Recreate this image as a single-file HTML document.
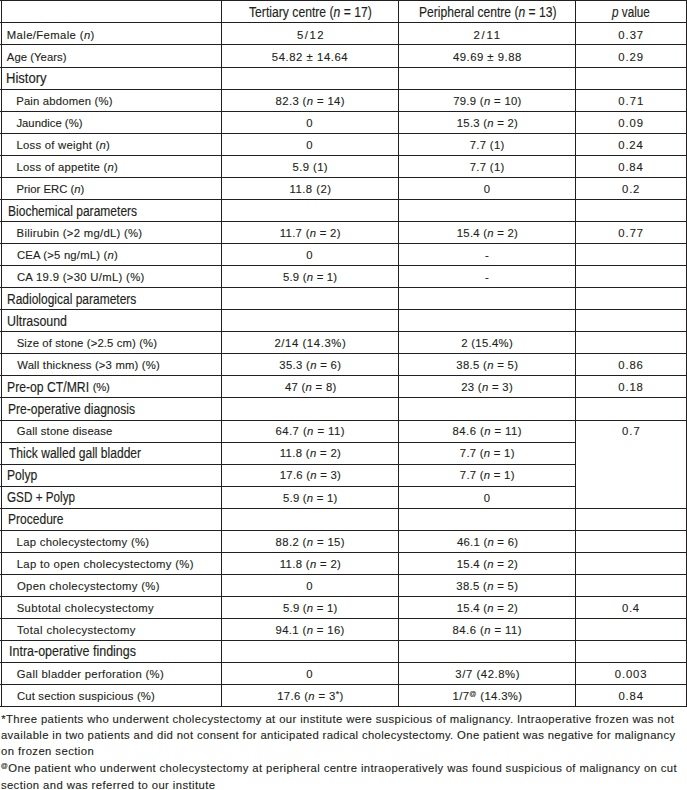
<!DOCTYPE html>
<html><head><meta charset="utf-8"><style>
html,body{margin:0;padding:0;background:#fff;}
body{width:687px;height:790px;position:relative;overflow:hidden;font-family:"Liberation Sans",sans-serif;color:#231f20;-webkit-text-stroke:0.12px #231f20;}
.t{position:absolute;white-space:nowrap;line-height:1;}
.b{font-size:11.3px;}
.h{font-size:13.8px;transform-origin:0 0;-webkit-text-stroke:0.15px #231f20;}
.hc{font-size:14.0px;transform-origin:0 0;-webkit-text-stroke:0.15px #231f20;}
.s{font-size:11.3px;letter-spacing:0.3px;-webkit-text-stroke:0.12px #231f20;}
.fn{font-size:11.3px;}
sup{font-size:7px;vertical-align:top;position:relative;top:-1px;}
sup.ast{font-size:9px;top:-1px;}
svg{position:absolute;left:0;top:0;}
</style></head><body>

<svg width="687" height="790" viewBox="0 0 687 790">
<line x1="0" y1="0.5" x2="687" y2="0.5" stroke="#231f20" stroke-width="1.0"/>
<line x1="0" y1="22.5" x2="687" y2="22.5" stroke="#231f20" stroke-width="1.0"/>
<line x1="0" y1="44.5" x2="687" y2="44.5" stroke="#231f20" stroke-width="1.0"/>
<line x1="0" y1="67.5" x2="687" y2="67.5" stroke="#231f20" stroke-width="1.0"/>
<line x1="0" y1="89.5" x2="687" y2="89.5" stroke="#231f20" stroke-width="1.0"/>
<line x1="0" y1="111.5" x2="687" y2="111.5" stroke="#231f20" stroke-width="1.0"/>
<line x1="0" y1="133.5" x2="687" y2="133.5" stroke="#231f20" stroke-width="1.0"/>
<line x1="0" y1="155.5" x2="687" y2="155.5" stroke="#231f20" stroke-width="1.0"/>
<line x1="0" y1="177.5" x2="687" y2="177.5" stroke="#231f20" stroke-width="1.0"/>
<line x1="0" y1="199.5" x2="687" y2="199.5" stroke="#231f20" stroke-width="1.0"/>
<line x1="0" y1="221.5" x2="687" y2="221.5" stroke="#231f20" stroke-width="1.0"/>
<line x1="0" y1="243.5" x2="687" y2="243.5" stroke="#231f20" stroke-width="1.0"/>
<line x1="0" y1="265.5" x2="687" y2="265.5" stroke="#231f20" stroke-width="1.0"/>
<line x1="0" y1="287.5" x2="687" y2="287.5" stroke="#231f20" stroke-width="1.0"/>
<line x1="0" y1="309.5" x2="687" y2="309.5" stroke="#231f20" stroke-width="1.0"/>
<line x1="0" y1="331.5" x2="687" y2="331.5" stroke="#231f20" stroke-width="1.0"/>
<line x1="0" y1="353.5" x2="687" y2="353.5" stroke="#231f20" stroke-width="1.0"/>
<line x1="0" y1="375.5" x2="687" y2="375.5" stroke="#231f20" stroke-width="1.0"/>
<line x1="0" y1="397.5" x2="687" y2="397.5" stroke="#231f20" stroke-width="1.0"/>
<line x1="0" y1="420.5" x2="687" y2="420.5" stroke="#231f20" stroke-width="1.0"/>
<line x1="0" y1="442.5" x2="575.5" y2="442.5" stroke="#231f20" stroke-width="1.0"/>
<line x1="0" y1="464.5" x2="575.5" y2="464.5" stroke="#231f20" stroke-width="1.0"/>
<line x1="0" y1="486.5" x2="575.5" y2="486.5" stroke="#231f20" stroke-width="1.0"/>
<line x1="0" y1="508.5" x2="687" y2="508.5" stroke="#231f20" stroke-width="1.0"/>
<line x1="0" y1="530.5" x2="687" y2="530.5" stroke="#231f20" stroke-width="1.0"/>
<line x1="0" y1="552.5" x2="687" y2="552.5" stroke="#231f20" stroke-width="1.0"/>
<line x1="0" y1="574.5" x2="687" y2="574.5" stroke="#231f20" stroke-width="1.0"/>
<line x1="0" y1="596.5" x2="687" y2="596.5" stroke="#231f20" stroke-width="1.0"/>
<line x1="0" y1="618.5" x2="687" y2="618.5" stroke="#231f20" stroke-width="1.0"/>
<line x1="0" y1="640.5" x2="687" y2="640.5" stroke="#231f20" stroke-width="1.0"/>
<line x1="0" y1="662.5" x2="687" y2="662.5" stroke="#231f20" stroke-width="1.0"/>
<line x1="0" y1="684.5" x2="687" y2="684.5" stroke="#231f20" stroke-width="1.0"/>
<line x1="0" y1="706.5" x2="687" y2="706.5" stroke="#231f20" stroke-width="1.0"/>
<line x1="1.5" y1="0" x2="1.5" y2="706.5" stroke="#231f20" stroke-width="1.0"/>
<line x1="221.5" y1="0" x2="221.5" y2="706.5" stroke="#231f20" stroke-width="1.0"/>
<line x1="398.5" y1="0" x2="398.5" y2="706.5" stroke="#231f20" stroke-width="1.0"/>
<line x1="575.5" y1="0" x2="575.5" y2="706.5" stroke="#231f20" stroke-width="1.0"/>
<line x1="686.5" y1="0" x2="686.5" y2="706.5" stroke="#231f20" stroke-width="1.0"/>
</svg>
<div id="h0" class="t hc" style="left:248.52px;top:5.05px;letter-spacing:0.000px;transform:scaleX(0.8697);">Tertiary centre (<i>n</i> = 17)</div>
<div id="h1" class="t hc" style="left:418.64px;top:5.05px;letter-spacing:0.000px;transform:scaleX(0.8637);">Peripheral centre (<i>n</i> = 13)</div>
<div id="h2" class="t hc" style="left:611.88px;top:5.05px;letter-spacing:0.000px;transform:scaleX(0.8383);"><i>p</i> value</div>
<div id="l0" class="t b" style="left:6.80px;top:29.73px;letter-spacing:0.376px;">Male/Female (<i>n</i>)</div>
<div id="c0_0" class="t b" style="left:296.91px;top:29.73px;letter-spacing:1.571px;">5/12</div>
<div id="c0_1" class="t b" style="left:473.57px;top:29.73px;letter-spacing:1.764px;">2/11</div>
<div id="c0_2" class="t b" style="left:618.34px;top:29.73px;letter-spacing:0.943px;">0.37</div>
<div id="l1" class="t b" style="left:6.86px;top:51.77px;letter-spacing:0.037px;">Age (Years)</div>
<div id="c1_0" class="t b" style="left:271.85px;top:51.77px;letter-spacing:0.559px;">54.82 ± 14.64</div>
<div id="c1_1" class="t b" style="left:452.91px;top:51.77px;letter-spacing:0.510px;">49.69 ± 9.88</div>
<div id="c1_2" class="t b" style="left:618.34px;top:51.77px;letter-spacing:0.917px;">0.29</div>
<div id="l2" class="t h" style="left:6.49px;top:72.29px;letter-spacing:0.000px;transform:scaleX(0.9471);">History</div>
<div id="l3" class="t b" style="left:16.18px;top:95.85px;letter-spacing:0.181px;">Pain abdomen (%)</div>
<div id="c3_0" class="t b" style="left:275.60px;top:95.85px;letter-spacing:0.375px;">82.3 (<i>n</i> = 14)</div>
<div id="c3_1" class="t b" style="left:453.13px;top:95.85px;letter-spacing:0.321px;">79.9 (<i>n</i> = 10)</div>
<div id="c3_2" class="t b" style="left:618.34px;top:95.85px;letter-spacing:0.975px;">0.71</div>
<div id="l4" class="t b" style="left:16.39px;top:117.88px;letter-spacing:0.014px;">Jaundice (%)</div>
<div id="c4_0" class="t b" style="left:306.37px;top:117.88px;letter-spacing:0.300px;">0</div>
<div id="c4_1" class="t b" style="left:456.84px;top:117.88px;letter-spacing:0.260px;">15.3 (<i>n</i> = 2)</div>
<div id="c4_2" class="t b" style="left:618.34px;top:117.88px;letter-spacing:0.917px;">0.09</div>
<div id="l5" class="t b" style="left:16.58px;top:139.92px;letter-spacing:0.231px;">Loss of weight (<i>n</i>)</div>
<div id="c5_0" class="t b" style="left:306.37px;top:139.92px;letter-spacing:0.300px;">0</div>
<div id="c5_1" class="t b" style="left:469.67px;top:139.92px;letter-spacing:0.337px;">7.7 (1)</div>
<div id="c5_2" class="t b" style="left:618.34px;top:139.92px;letter-spacing:0.782px;">0.24</div>
<div id="l6" class="t b" style="left:16.58px;top:161.96px;letter-spacing:0.231px;">Loss of appetite (<i>n</i>)</div>
<div id="c6_0" class="t b" style="left:292.56px;top:161.96px;letter-spacing:0.397px;">5.9 (1)</div>
<div id="c6_1" class="t b" style="left:469.67px;top:161.96px;letter-spacing:0.337px;">7.7 (1)</div>
<div id="c6_2" class="t b" style="left:618.34px;top:161.96px;letter-spacing:0.782px;">0.84</div>
<div id="l7" class="t b" style="left:16.58px;top:183.99px;letter-spacing:-0.016px;">Prior ERC (<i>n</i>)</div>
<div id="c7_0" class="t b" style="left:289.57px;top:183.99px;letter-spacing:0.466px;">11.8 (2)</div>
<div id="c7_1" class="t b" style="left:483.67px;top:183.99px;letter-spacing:0.300px;">0</div>
<div id="c7_2" class="t b" style="left:622.04px;top:183.99px;letter-spacing:0.828px;">0.2</div>
<div id="l8" class="t h" style="left:7.69px;top:204.51px;letter-spacing:0.000px;transform:scaleX(0.8724);">Biochemical parameters</div>
<div id="l9" class="t b" style="left:16.58px;top:228.07px;letter-spacing:0.286px;">Bilirubin (&gt;2 mg/dL) (%)</div>
<div id="c9_0" class="t b" style="left:279.84px;top:228.07px;letter-spacing:0.303px;">11.7 (<i>n</i> = 2)</div>
<div id="c9_1" class="t b" style="left:456.84px;top:228.07px;letter-spacing:0.260px;">15.4 (<i>n</i> = 2)</div>
<div id="c9_2" class="t b" style="left:618.34px;top:228.07px;letter-spacing:0.943px;">0.77</div>
<div id="l10" class="t b" style="left:16.88px;top:250.10px;letter-spacing:0.188px;">CEA (&gt;5 ng/mL) (<i>n</i>)</div>
<div id="c10_0" class="t b" style="left:306.37px;top:250.10px;letter-spacing:0.300px;">0</div>
<div id="c10_1" class="t b" style="left:484.89px;top:250.10px;letter-spacing:0.300px;">-</div>
<div id="l11" class="t b" style="left:16.88px;top:272.14px;letter-spacing:0.312px;">CA 19.9 (&gt;30 U/mL) (%)</div>
<div id="c11_0" class="t b" style="left:282.94px;top:272.14px;letter-spacing:0.238px;">5.9 (<i>n</i> = 1)</div>
<div id="c11_1" class="t b" style="left:484.89px;top:272.14px;letter-spacing:0.300px;">-</div>
<div id="l12" class="t h" style="left:7.36px;top:292.66px;letter-spacing:0.000px;transform:scaleX(0.8692);">Radiological parameters</div>
<div id="l13" class="t h" style="left:7.37px;top:314.70px;letter-spacing:0.000px;transform:scaleX(0.8994);">Ultrasound</div>
<div id="l14" class="t b" style="left:16.63px;top:338.25px;letter-spacing:0.122px;">Size of stone (&gt;2.5 cm) (%)</div>
<div id="c14_0" class="t b" style="left:274.38px;top:338.25px;letter-spacing:0.601px;">2/14 (14.3%)</div>
<div id="c14_1" class="t b" style="left:461.22px;top:338.25px;letter-spacing:0.311px;">2 (15.4%)</div>
<div id="l15" class="t b" style="left:17.23px;top:360.29px;letter-spacing:0.184px;">Wall thickness (&gt;3 mm) (%)</div>
<div id="c15_0" class="t b" style="left:279.33px;top:360.29px;letter-spacing:0.317px;">35.3 (<i>n</i> = 6)</div>
<div id="c15_1" class="t b" style="left:456.33px;top:360.29px;letter-spacing:0.317px;">38.5 (<i>n</i> = 5)</div>
<div id="c15_2" class="t b" style="left:618.34px;top:360.29px;letter-spacing:0.825px;">0.86</div>
<div id="l16" class="t h" style="left:7.45px;top:380.81px;letter-spacing:0.000px;transform:scaleX(0.8843);">Pre-op CT/MRI</div>
<div id="l16b" class="t b" style="left:92.75px;top:382.33px;letter-spacing:-0.241px;">(%)</div>
<div id="c16_0" class="t b" style="left:284.91px;top:382.33px;letter-spacing:0.292px;">47 (<i>n</i> = 8)</div>
<div id="c16_1" class="t b" style="left:461.22px;top:382.33px;letter-spacing:0.309px;">23 (<i>n</i> = 3)</div>
<div id="c16_2" class="t b" style="left:618.34px;top:382.33px;letter-spacing:0.826px;">0.18</div>
<div id="l17" class="t h" style="left:7.69px;top:402.85px;letter-spacing:0.000px;transform:scaleX(0.8769);">Pre-operative diagnosis</div>
<div id="l18" class="t b" style="left:16.75px;top:426.40px;letter-spacing:0.159px;">Gall stone disease</div>
<div id="c18_0" class="t b" style="left:275.57px;top:426.40px;letter-spacing:0.440px;">64.7 (<i>n</i> = 11)</div>
<div id="c18_1" class="t b" style="left:452.60px;top:426.40px;letter-spacing:0.446px;">84.6 (<i>n</i> = 11)</div>
<div id="c18_2" class="t b" style="left:622.04px;top:426.40px;letter-spacing:0.966px;">0.7</div>
<div id="l19" class="t h" style="left:8.54px;top:446.92px;letter-spacing:0.000px;transform:scaleX(0.8742);">Thick walled gall bladder</div>
<div id="c19_0" class="t b" style="left:279.84px;top:448.44px;letter-spacing:0.334px;">11.8 (<i>n</i> = 2)</div>
<div id="c19_1" class="t b" style="left:459.83px;top:448.44px;letter-spacing:0.276px;">7.7 (<i>n</i> = 1)</div>
<div id="l20" class="t h" style="left:7.40px;top:468.96px;letter-spacing:0.000px;transform:scaleX(0.8796);">Polyp</div>
<div id="c20_0" class="t b" style="left:279.84px;top:470.47px;letter-spacing:0.260px;">17.6 (<i>n</i> = 3)</div>
<div id="c20_1" class="t b" style="left:459.83px;top:470.47px;letter-spacing:0.276px;">7.7 (<i>n</i> = 1)</div>
<div id="l21" class="t h" style="left:7.47px;top:491.00px;letter-spacing:0.000px;transform:scaleX(0.8494);">GSD + Polyp</div>
<div id="c21_0" class="t b" style="left:282.94px;top:492.51px;letter-spacing:0.259px;">5.9 (<i>n</i> = 1)</div>
<div id="c21_1" class="t b" style="left:483.67px;top:492.51px;letter-spacing:0.300px;">0</div>
<div id="l22" class="t h" style="left:7.69px;top:513.03px;letter-spacing:0.000px;transform:scaleX(0.8726);">Procedure</div>
<div id="l23" class="t b" style="left:16.58px;top:536.59px;letter-spacing:0.286px;">Lap cholecystectomy (%)</div>
<div id="c23_0" class="t b" style="left:275.60px;top:536.59px;letter-spacing:0.375px;">88.2 (<i>n</i> = 15)</div>
<div id="c23_1" class="t b" style="left:456.96px;top:536.59px;letter-spacing:0.261px;">46.1 (<i>n</i> = 6)</div>
<div id="l24" class="t b" style="left:16.74px;top:558.62px;letter-spacing:0.322px;">Lap to open cholecystectomy (%)</div>
<div id="c24_0" class="t b" style="left:279.84px;top:558.62px;letter-spacing:0.334px;">11.8 (<i>n</i> = 2)</div>
<div id="c24_1" class="t b" style="left:456.84px;top:558.62px;letter-spacing:0.260px;">15.4 (<i>n</i> = 2)</div>
<div id="l25" class="t b" style="left:16.92px;top:580.66px;letter-spacing:0.327px;">Open cholecystectomy (%)</div>
<div id="c25_0" class="t b" style="left:306.37px;top:580.66px;letter-spacing:0.300px;">0</div>
<div id="c25_1" class="t b" style="left:456.33px;top:580.66px;letter-spacing:0.317px;">38.5 (<i>n</i> = 5)</div>
<div id="l26" class="t b" style="left:16.63px;top:602.70px;letter-spacing:0.393px;">Subtotal cholecystectomy</div>
<div id="c26_0" class="t b" style="left:282.94px;top:602.70px;letter-spacing:0.259px;">5.9 (<i>n</i> = 1)</div>
<div id="c26_1" class="t b" style="left:456.84px;top:602.70px;letter-spacing:0.260px;">15.4 (<i>n</i> = 2)</div>
<div id="c26_2" class="t b" style="left:622.04px;top:602.70px;letter-spacing:0.676px;">0.4</div>
<div id="l27" class="t b" style="left:17.02px;top:624.73px;letter-spacing:0.396px;">Total cholecystectomy</div>
<div id="c27_0" class="t b" style="left:275.57px;top:624.73px;letter-spacing:0.364px;">94.1 (<i>n</i> = 16)</div>
<div id="c27_1" class="t b" style="left:452.60px;top:624.73px;letter-spacing:0.446px;">84.6 (<i>n</i> = 11)</div>
<div id="l28" class="t h" style="left:8.53px;top:645.25px;letter-spacing:0.000px;transform:scaleX(0.9048);">Intra-operative findings</div>
<div id="l29" class="t b" style="left:16.75px;top:668.81px;letter-spacing:0.301px;">Gall bladder perforation (%)</div>
<div id="c29_0" class="t b" style="left:306.37px;top:668.81px;letter-spacing:0.300px;">0</div>
<div id="c29_1" class="t b" style="left:455.33px;top:668.81px;letter-spacing:0.572px;">3/7 (42.8%)</div>
<div id="c29_2" class="t b" style="left:614.72px;top:668.81px;letter-spacing:0.891px;">0.003</div>
<div id="l30" class="t b" style="left:16.88px;top:690.84px;letter-spacing:0.195px;">Cut section suspicious (%)</div>
<div id="c30_0" class="t b" style="left:277.20px;top:690.84px;letter-spacing:0.371px;">17.6 (<i>n</i> = 3<sup class="ast">*</sup>)</div>
<div id="c30_1" class="t b" style="left:452.57px;top:690.84px;letter-spacing:0.349px;">1/7<sup>@</sup> (14.3%)</div>
<div id="c30_2" class="t b" style="left:618.48px;top:690.84px;letter-spacing:0.836px;">0.84</div>
<div id="f0" class="t fn" style="left:1.13px;top:713.53px;letter-spacing:0.394px;">*Three patients who underwent cholecystectomy at our institute were suspicious of malignancy. Intraoperative frozen was not</div>
<div id="f1" class="t fn" style="left:0.96px;top:730.33px;letter-spacing:0.366px;">available in two patients and did not consent for anticipated radical cholecystectomy. One patient was negative for malignancy</div>
<div id="f2" class="t fn" style="left:0.97px;top:746.23px;letter-spacing:0.416px;">on frozen section</div>
<div id="f3" class="t fn" style="left:0.83px;top:762.93px;letter-spacing:0.383px;"><sup>@</sup>One patient who underwent cholecystectomy at peripheral centre intraoperatively was found suspicious of malignancy on cut</div>
<div id="f4" class="t fn" style="left:0.89px;top:779.83px;letter-spacing:0.409px;">section and was referred to our institute</div>
</body></html>
